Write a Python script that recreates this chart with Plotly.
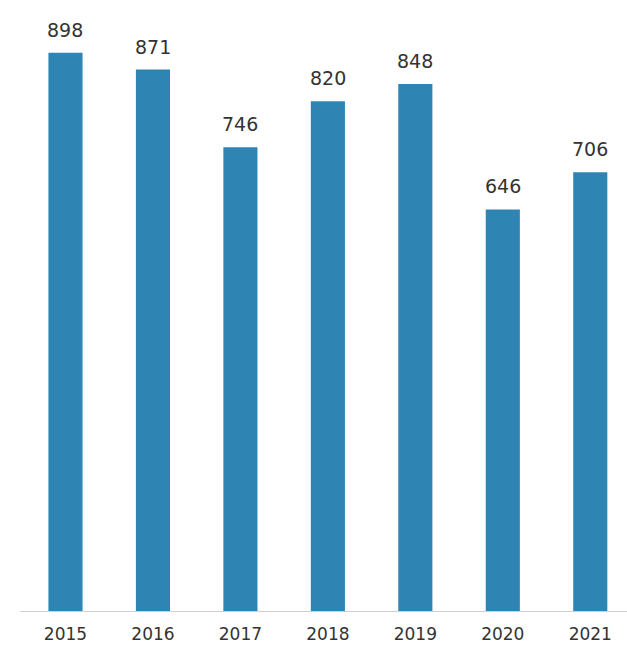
import plotly.graph_objects as go

years = ["2015", "2016", "2017", "2018", "2019", "2020", "2021"]
values = [898, 871, 746, 820, 848, 646, 706]

bar_color = "#2e84b3"
text_color = "#333333"
font_family = "DejaVu Sans"

fig = go.Figure(
    go.Bar(
        x=years,
        y=values,
        marker=dict(color=bar_color, line=dict(width=0)),
        width=0.39,
        hoverinfo="skip",
    )
)

for i, v in enumerate(values):
    fig.add_annotation(
        x=i, y=v, xref="x", yref="y", text=str(v), showarrow=False,
        yanchor="middle", yshift=23,
        font=dict(family=font_family, size=19, color=text_color),
    )

fig.update_layout(
    width=627, height=647,
    margin=dict(l=20, r=0, t=0, b=36),
    paper_bgcolor="white", plot_bgcolor="white",
    showlegend=False,
    font=dict(family=font_family, color=text_color),
)
fig.update_xaxes(
    type="category", range=[-0.52, 6.42],
    showline=True, linecolor="#d0d0d0", linewidth=1,
    showgrid=False, ticks="", zeroline=False,
    ticklabelstandoff=8,
    tickfont=dict(family=font_family, size=17, color=text_color),
)
fig.update_yaxes(
    range=[0, 983], visible=False, showgrid=False, zeroline=False,
)

fig.write_html(
    "out.html",
    config={"displayModeBar": False},
    post_script="document.body.style.margin='0';document.body.style.overflow='hidden';",
)
